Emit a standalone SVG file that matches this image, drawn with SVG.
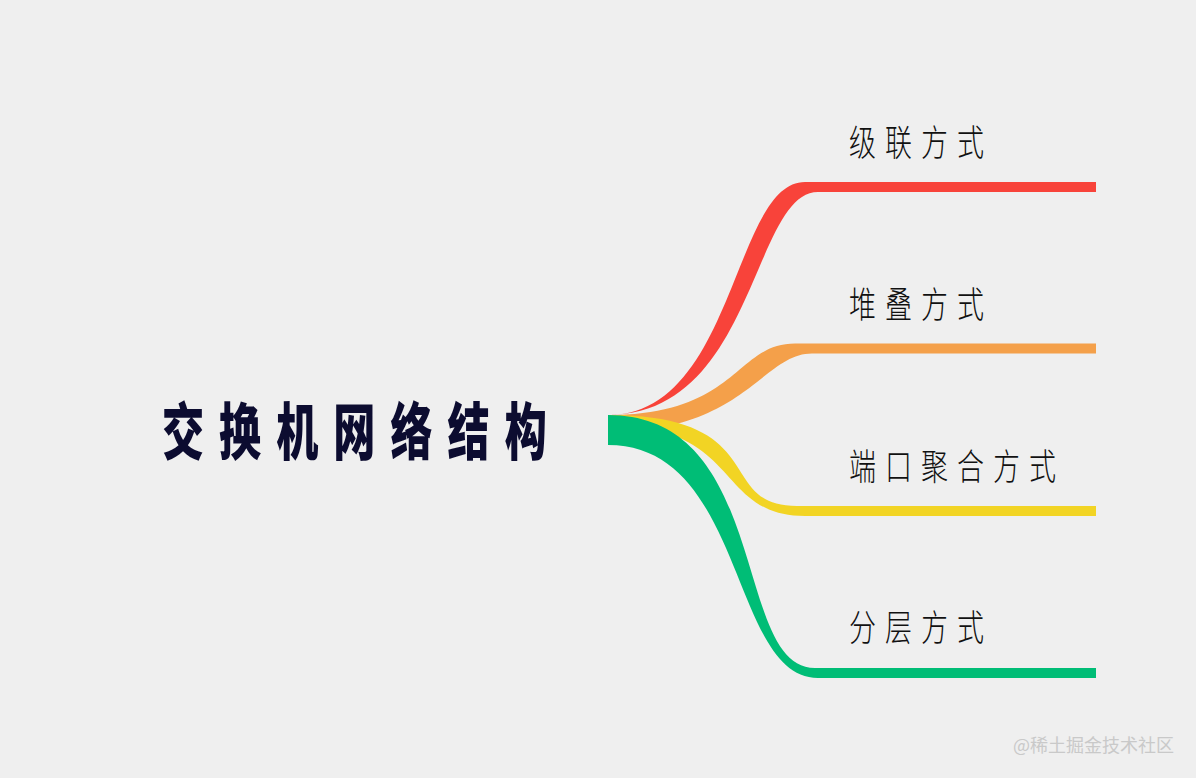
<svg xmlns="http://www.w3.org/2000/svg" width="1196" height="778" viewBox="0 0 1196 778">
<style>
.root{font-family:"Noto Sans CJK SC","Noto Sans CJK JP",sans-serif;font-weight:900;font-size:62px;fill:#0c0c30;letter-spacing:22px}
.lbl{font-family:"Noto Sans CJK SC","Noto Sans CJK JP",sans-serif;font-weight:300;font-size:36px;fill:#111;letter-spacing:12px}
.wm{font-family:"Noto Sans CJK SC","Noto Sans CJK JP",sans-serif;font-size:18px;fill:#c9c9c9}
</style>
<rect width="1196" height="778" fill="#efefef"/>
<g id="connectors">
<path id="c-red" fill="#f8433a" d="M608,415 C735,415 733,182 805,182 L1096,182 L1096,192 L818,192 C752,192 755,415 608,415 Z"/>
<path id="c-orange" fill="#f4a04a" d="M608,415 C738,415 735,343.5 795,343.5 L1096,343.5 L1096,353.5 L812,353.5 C762,353.5 745,432 608,432 Z"/>
<path id="c-yellow" fill="#f2d424" d="M608,415 C773,415 714,506 797,506 L1096,506 L1096,516 L805,516 C715,516 742,425 608,425 Z"/>
<path id="c-green" fill="#00bd76" d="M608,415 C772,415 732,668 815,668 L1096,668 L1096,678 L818,678 C730,678 746,445 608,445 Z"/>
</g>
<g id="root">
<text class="root" transform="translate(162,455) scale(0.68,1)">交换机网络结构</text>
</g>
<g id="n1"><text class="lbl" transform="translate(849,156) scale(0.75,1)">级联方式</text></g>
<g id="n2"><text class="lbl" transform="translate(849,318) scale(0.75,1)">堆叠方式</text></g>
<g id="n3"><text class="lbl" transform="translate(849,480) scale(0.75,1)">端口聚合方式</text></g>
<g id="n4"><text class="lbl" transform="translate(849,641) scale(0.75,1)">分层方式</text></g>
<text class="wm" x="1013" y="752">@稀土掘金技术社区</text>
</svg>
